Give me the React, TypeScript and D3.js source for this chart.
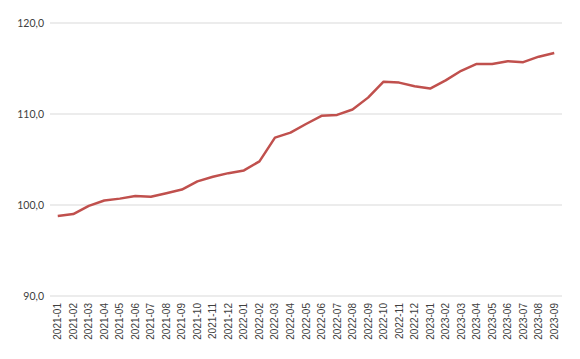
import React from "react";
import * as d3 from "d3";

const categories = [
  "2021-01","2021-02","2021-03","2021-04","2021-05","2021-06","2021-07","2021-08","2021-09","2021-10","2021-11","2021-12",
  "2022-01","2022-02","2022-03","2022-04","2022-05","2022-06","2022-07","2022-08","2022-09","2022-10","2022-11","2022-12",
  "2023-01","2023-02","2023-03","2023-04","2023-05","2023-06","2023-07","2023-08","2023-09",
];
const values = [
  98.8, 99.0, 99.9, 100.5, 100.7, 101.0, 100.9, 101.3, 101.7, 102.6, 103.1, 103.5,
  103.8, 104.8, 107.4, 107.95, 108.9, 109.8, 109.9, 110.5, 111.8, 113.55, 113.45, 113.05,
  112.8, 113.7, 114.75, 115.5, 115.5, 115.8, 115.7, 116.3, 116.7,
];
const yTicks = [90, 100, 110, 120];

export default function App() {
  const W = 580, H = 359;
  const left = 50, right = 562, top = 23, bottom = 296;
  const x = d3.scaleBand<string>().domain(categories).range([left, right]);
  const y = d3.scaleLinear().domain([90, 120]).range([bottom, top]);
  const line = d3.line<number>()
    .x((_, i) => (x(categories[i]) ?? 0) + x.bandwidth() / 2)
    .y((d) => y(d));
  const fmt = (v: number) => v.toFixed(1).replace(".", ",");
  return (
    <svg width={W} height={H} style={{ position: "absolute", left: 0, top: 0 }}>
      <rect width={W} height={H} fill="#fff" />
      {yTicks.map((t) => (
        <g key={t}>
          <line x1={left} x2={right} y1={y(t)} y2={y(t)} stroke="#d9d9d9" strokeWidth={1} />
          <text x={44} y={y(t)} dy="0.35em" textAnchor="end" fontFamily="Lato" fontSize={10.5} fill="#404040">
            {fmt(t)}
          </text>
        </g>
      ))}
      {categories.map((c) => {
        const cx = (x(c) ?? 0) + x.bandwidth() / 2;
        return (
          <text key={c} transform={`translate(${cx + 3.5},${bottom + 7}) rotate(-90)`} textAnchor="end"
            fontFamily="Liberation Sans, Arial" fontSize={10} fill="#404040">
            {c}
          </text>
        );
      })}
      <path d={line(values) ?? ""} fill="none" stroke="#c0504d" strokeWidth={2.5} strokeLinejoin="round" />
    </svg>
  );
}
